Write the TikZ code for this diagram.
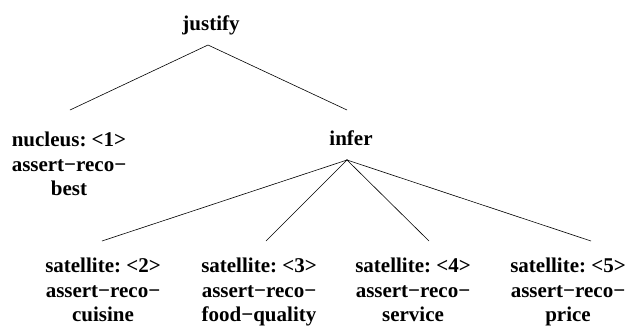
\documentclass[tikz,border=0pt]{standalone}
\usepackage{fontspec}
\setmainfont{Liberation Serif}
\frenchspacing
\begin{document}
\begin{tikzpicture}[x=1pt,y=-1pt,
  lbl/.style={font=\fontsize{21}{24.5}\selectfont\bfseries, align=center, inner sep=0pt, anchor=base},
  edge/.style={line width=0.6pt}]
\useasboundingbox (0,0) rectangle (626,325);
\node[lbl] (j) at (211,30) {justify};
\node[lbl] (n) at (69,195.5) {nucleus: <1>\\assert−reco−\\best};
\node[lbl] (i) at (351,145) {infer};
\node[lbl] (s2) at (103,321.5) {satellite: <2>\\assert−reco−\\cuisine};
\node[lbl] (s3) at (259,321.5) {satellite: <3>\\assert−reco−\\food−quality};
\node[lbl] (s4) at (413,321.5) {satellite: <4>\\assert−reco−\\service};
\node[lbl] (s5) at (568,321.5) {satellite: <5>\\assert−reco−\\price};
\coordinate (ja) at (208,45);
\coordinate (na) at (70,110);
\coordinate (ia) at (347,110);
\coordinate (ib) at (347,160);
\coordinate (s2a) at (102,241);
\coordinate (s3a) at (266,241);
\coordinate (s4a) at (429,241);
\coordinate (s5a) at (591,241);
\draw[edge] (na) -- (ja) -- (ia);
\draw[edge] (s2a) -- (ib) -- (s3a);
\draw[edge] (s4a) -- (ib) -- (s5a);
\end{tikzpicture}
\end{document}
